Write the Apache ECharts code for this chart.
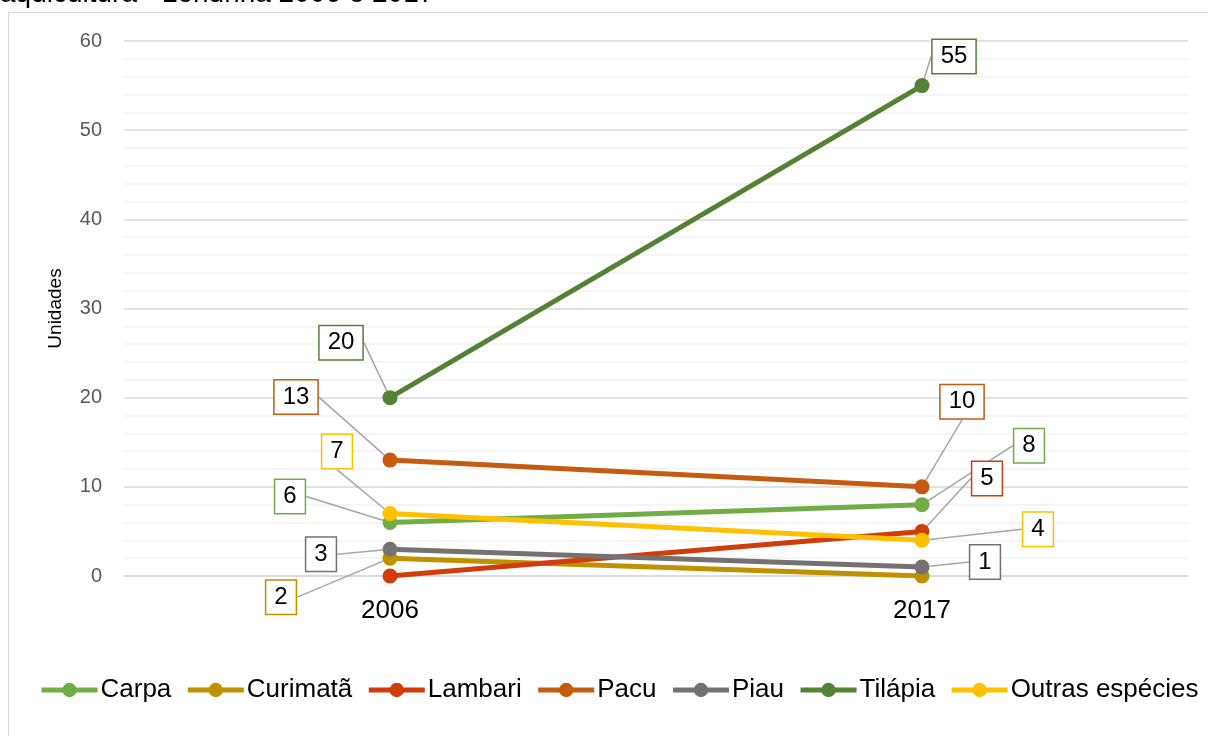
<!DOCTYPE html>
<html>
<head>
<meta charset="utf-8">
<script src="https://cdn.jsdelivr.net/npm/echarts@6/dist/echarts.min.js"></script>
<style>
  html, body { margin: 0; padding: 0; background: #fff; }
  #chart { width: 1208px; height: 736px; }
</style>
</head>
<body>
<div id="chart"></div>
<script>
// dados
const anos = ['2006', '2017']
const especies = ['Carpa', 'Curimatã', 'Lambari', 'Pacu', 'Piau', 'Tilápia', 'Outras espécies']
const carpa = [6, 8]
const curimata = [2, 0]
const lambari = [0, 5]
const pacu = [13, 10]
const piau = [3, 1]
const tilapia = [20, 55]
const outras = [7, 4]
const cores = ['#70AD47', '#BF9000', '#D03C0A', '#C55A11', '#767171', '#548235', '#FFC000']

// deslocamento das etiquetas (px) em relação ao ponto
const offsets = [
  [[-100, -26], [107, -59]],
  [[-109, 39], [0, 0]],
  [[0, 0], [65, -53]],
  [[-94, -63], [40, -85]],
  [[-69, 5], [63, -5]],
  [[-49, -55], [32, -29]],
  [[-53, -62], [116, -11]]
]

const valores = [carpa, curimata, lambari, pacu, piau, tilapia, outras]

const chart = echarts.init(document.getElementById('chart'))

const series = especies.map((nome, i) => ({
  name: nome,
  type: 'line',
  data: valores[i].map(v => v === 0
    ? { value: v, label: { show: false }, labelLine: { show: false } }
    : v),
  symbol: 'circle',
  symbolSize: 15,
  lineStyle: { width: 5, color: cores[i] },
  itemStyle: { color: cores[i] },
  z: 2 + i,
  label: {
    show: true,
    color: '#000',
    fontSize: 24,
    fontFamily: 'Liberation Sans',
    backgroundColor: '#fff',
    borderColor: cores[i],
    borderWidth: 1.5,
    padding: [5, 8, 4, 8]
  },
  labelLine: {
    show: true,
    lineStyle: { color: '#A6A6A6', width: 1.5 }
  },
  labelLayout: (p) => {
    const o = offsets[p.seriesIndex][p.dataIndex]
    return {
      x: p.rect.x + p.rect.width / 2 + o[0],
      y: p.rect.y + p.rect.height / 2 + o[1],
      align: 'center',
      verticalAlign: 'middle'
    }
  },
  emphasis: { disabled: true }
}))

const option = {
  animation: false,
  color: cores,
  textStyle: { fontFamily: 'Liberation Sans' },
  graphic: [
    {
      type: 'rect',
      shape: { x: 8.5, y: 12.5, width: 1220, height: 740 },
      style: { fill: 'none', stroke: '#D9D9D9', lineWidth: 1 },
      silent: true
    },
    {
      type: 'text',
      left: 0,
      top: -20,
      style: {
        text: 'aquicultura - Londrina 2006 e 2017',
        fontSize: 28,
        fontFamily: 'Liberation Sans',
        fill: '#000'
      }
    }
  ],
  grid: { left: 124, right: 20, top: 41, bottom: 160 },
  legend: {
    data: especies,
    bottom: 33,
    left: 39,
    width: 1200,
    padding: 0,
    itemWidth: 56,
    itemHeight: 18,
    itemGap: 14,
    lineStyle: { width: 5 },
    textStyle: { fontSize: 26, color: '#000', fontFamily: 'Liberation Sans', padding: [0, 0, 0, -2] }
  },
  xAxis: {
    type: 'category',
    data: anos,
    axisTick: { show: false },
    axisLine: { lineStyle: { color: '#D9D9D9', width: 1.5 } },
    axisLabel: { fontSize: 26, color: '#000', margin: 22 }
  },
  yAxis: {
    type: 'value',
    min: 0,
    max: 60,
    interval: 10,
    name: 'Unidades',
    nameLocation: 'middle',
    nameGap: 59,
    nameMoveOverlap: false,
    nameTextStyle: { fontSize: 19, color: '#000' },
    axisLabel: { fontSize: 20, color: '#595959', margin: 22 },
    splitLine: { lineStyle: { color: '#D9D9D9', width: 1.5 } },
    minorTick: { show: false, splitNumber: 5 },
    minorSplitLine: { show: true, lineStyle: { color: '#F2F2F2', width: 1.5 } }
  },
  series
}

chart.setOption(option)
</script>
</body>
</html>
